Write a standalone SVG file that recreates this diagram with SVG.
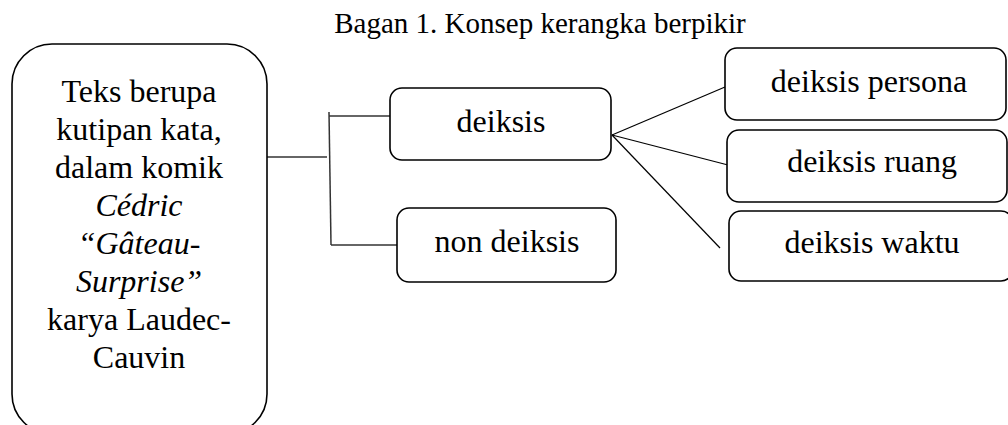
<svg xmlns="http://www.w3.org/2000/svg" width="1008" height="425" viewBox="0 0 1008 425">
<style>
.box{fill:#fff;stroke:#000;stroke-width:1.6}
.t{font-family:'Liberation Serif','Tinos','Times New Roman','Nimbus Roman','DejaVu Serif',serif;font-size:32px;fill:#000;text-anchor:middle}
.i{font-style:italic}
.ln{stroke:#000;stroke-width:1.2;fill:none}
.br{stroke:#333;stroke-width:1.5;fill:none}
.title{font-family:'Liberation Serif','Tinos','Times New Roman','Nimbus Roman','DejaVu Serif',serif;font-size:29px;fill:#000;text-anchor:middle}
</style>
<rect width="1008" height="425" fill="#fff"/>
<text class="title" x="540" y="33">Bagan 1. Konsep kerangka berpikir</text>
<g id="connectors">
<line class="br" x1="267" y1="157" x2="327" y2="157"/>
<line class="br" x1="329" y1="112" x2="331" y2="245"/>
<line class="br" x1="329" y1="116" x2="390" y2="116"/>
<line class="br" x1="331" y1="245" x2="397" y2="245"/>
<line class="ln" x1="612" y1="135" x2="725" y2="87"/>
<line class="ln" x1="612" y1="135" x2="728" y2="165"/>
<line class="ln" x1="612" y1="135" x2="720" y2="248"/>
</g>
<g id="source">
<rect class="box" x="12" y="44" width="255" height="390" rx="40" ry="40"/>
<text class="t" x="139" y="102">Teks berupa</text>
<text class="t" x="139" y="140">kutipan kata,</text>
<text class="t" x="139" y="178">dalam komik</text>
<text class="t i" x="139" y="216">Cédric</text>
<text class="t i" x="139" y="254">“Gâteau-</text>
<text class="t i" x="139" y="292">Surprise”</text>
<text class="t" x="139" y="330">karya Laudec-</text>
<text class="t" x="139" y="368">Cauvin</text>
</g>
<g id="deiksis">
<rect class="box" x="390" y="88" width="221" height="72" rx="12" ry="12"/>
<text class="t" x="501" y="132">deiksis</text>
</g>
<g id="non-deiksis">
<rect class="box" x="397" y="208" width="219" height="74" rx="12" ry="12"/>
<text class="t" x="507" y="252">non deiksis</text>
</g>
<g id="persona">
<rect class="box" x="725" y="48" width="281" height="72" rx="12" ry="12"/>
<text class="t" x="869" y="92">deiksis persona</text>
</g>
<g id="ruang">
<rect class="box" x="727" y="130" width="280" height="72" rx="12" ry="12"/>
<text class="t" x="872" y="172">deiksis ruang</text>
</g>
<g id="waktu">
<rect class="box" x="729" y="211" width="284" height="70" rx="12" ry="12"/>
<text class="t" x="872" y="253">deiksis waktu</text>
</g>
</svg>
